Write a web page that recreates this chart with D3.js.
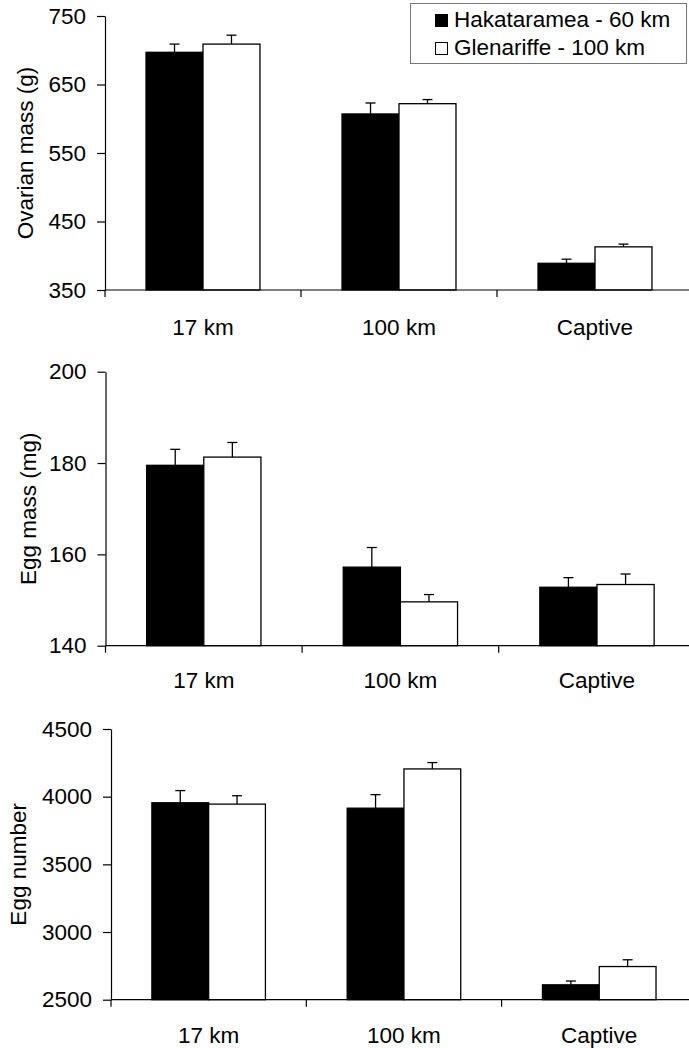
<!DOCTYPE html>
<html>
<head>
<meta charset="utf-8">
<script src="https://cdn.jsdelivr.net/npm/d3@7"></script>
<style>
  html, body { margin: 0; padding: 0; background: #fff; }
  svg { display: block; }
  text { font-family: "Liberation Sans", Arial, Helvetica, sans-serif; fill: #000; }
</style>
</head>
<body>
<svg id="chart" width="689" height="1048"></svg>
<script>
// ---- data ----
const categories = ["17 km", "100 km", "Captive"];
const seriesNames = ["Hakataramea - 60 km", "Glenariffe - 100 km"];

const ovarianHak = [697, 607, 389];
const ovarianHakErr = [12, 16, 6];
const ovarianGlen = [709, 622, 413];
const ovarianGlenErr = [13, 6, 4];
const ovarianTicks = [350, 450, 550, 650, 750];

const eggMassHak = [179.5, 157.2, 152.8];
const eggMassHakErr = [3.5, 4.3, 2.1];
const eggMassGlen = [181.3, 149.6, 153.4];
const eggMassGlenErr = [3.2, 1.6, 2.3];
const eggMassTicks = [140, 160, 180, 200];

const eggNumHak = [3955, 3915, 2610];
const eggNumHakErr = [90, 100, 28];
const eggNumGlen = [3945, 4205, 2745];
const eggNumGlenErr = [62, 47, 50];
const eggNumTicks = [2500, 3000, 3500, 4000, 4500];

// ---- layout ----
const W = 689;
const svg = d3.select("#chart");
const FS = 22.5;
const fills = ["#000", "#fff"];

const panels = [
  { title: "Ovarian mass (g)", ticks: ovarianTicks, vals: [ovarianHak, ovarianGlen], errs: [ovarianHakErr, ovarianGlenErr],
    x0: 105, band: 196, yTop: 16, yBot: 290, titleX: 25, labDy: 45 },
  { title: "Egg mass (mg)", ticks: eggMassTicks, vals: [eggMassHak, eggMassGlen], errs: [eggMassHakErr, eggMassGlenErr],
    x0: 105.5, band: 196.6, yTop: 371.7, yBot: 645.7, titleX: 28, labDy: 42 },
  { title: "Egg number", ticks: eggNumTicks, vals: [eggNumHak, eggNumGlen], errs: [eggNumHakErr, eggNumGlenErr],
    x0: 111, band: 195.3, yTop: 729, yBot: 999.7, titleX: 18, labDy: 43 }
];

panels.forEach(p => {
  const g = svg.append("g");
  const x = d3.scaleBand().domain(categories).range([p.x0, p.x0 + p.band * categories.length]).padding(0);
  const x1 = d3.scaleBand().domain(seriesNames).range([0, x.bandwidth()]).paddingInner(0).paddingOuter(0.72);
  const y = d3.scaleLinear().domain(d3.extent(p.ticks)).range([p.yBot, p.yTop]);

  seriesNames.forEach((s, si) => {
    const rows = categories.map((c, ci) => ({ c, v: p.vals[si][ci], e: p.errs[si][ci] }));
    const eg = g.append("g").attr("stroke", "#000").attr("stroke-width", 1.3);
    eg.selectAll("line.v").data(rows).join("line")
      .attr("x1", d => x(d.c) + x1(s) + x1.bandwidth() / 2)
      .attr("x2", d => x(d.c) + x1(s) + x1.bandwidth() / 2)
      .attr("y1", d => y(d.v)).attr("y2", d => y(d.v + d.e));
    eg.selectAll("line.h").data(rows).join("line")
      .attr("x1", d => x(d.c) + x1(s) + x1.bandwidth() / 2 - 5)
      .attr("x2", d => x(d.c) + x1(s) + x1.bandwidth() / 2 + 5)
      .attr("y1", d => y(d.v + d.e)).attr("y2", d => y(d.v + d.e));
    g.append("g").selectAll("rect").data(rows).join("rect")
      .attr("x", d => x(d.c) + x1(s))
      .attr("width", x1.bandwidth())
      .attr("y", d => y(d.v))
      .attr("height", d => y.range()[0] - y(d.v))
      .attr("fill", fills[si])
      .attr("stroke", "#000")
      .attr("stroke-width", 1.3);
  });

  const ya = g.append("g").attr("transform", `translate(${p.x0},0)`)
    .call(d3.axisLeft(y).tickValues(p.ticks).tickSize(8).tickSizeOuter(0).tickPadding(11).tickFormat(d3.format("d")));
  ya.selectAll("path,line").attr("stroke", "#000").attr("stroke-width", 1.2);
  ya.selectAll("text").style("font-size", FS + "px").style("font-family", "'Liberation Sans', Arial, sans-serif").attr("fill", "#000");

  g.append("line").attr("x1", p.x0).attr("x2", W).attr("y1", p.yBot).attr("y2", p.yBot)
    .attr("stroke", "#000").attr("stroke-width", 1.2);
  g.append("g").selectAll("line").data(categories).join("line")
    .attr("x1", d => x(d)).attr("x2", d => x(d))
    .attr("y1", p.yBot).attr("y2", p.yBot + 7)
    .attr("stroke", "#000").attr("stroke-width", 1.2);
  g.append("g").selectAll("text").data(categories).join("text")
    .attr("x", d => x(d) + x.bandwidth() / 2)
    .attr("y", p.yBot + p.labDy)
    .attr("text-anchor", "middle")
    .style("font-size", FS + "px")
    .text(d => d);

  g.append("text")
    .attr("transform", `translate(${p.titleX},${(p.yTop + p.yBot) / 2}) rotate(-90)`)
    .attr("text-anchor", "middle")
    .attr("dominant-baseline", "central")
    .style("font-size", FS + "px")
    .text(p.title);
});

// legend
const lg = svg.append("g");
lg.append("rect").attr("x", 410.5).attr("y", 3.5).attr("width", 276).attr("height", 60)
  .attr("fill", "#fff").attr("stroke", "#777").attr("stroke-width", 1);
seriesNames.forEach((s, i) => {
  const yb = 27 + i * 28;
  lg.append("rect").attr("x", 435.5).attr("y", yb - 12.5).attr("width", 12).attr("height", 12)
    .attr("fill", fills[i]).attr("stroke", "#000").attr("stroke-width", 1);
  lg.append("text").attr("x", 454).attr("y", yb).style("font-size", FS + "px").text(s);
});
</script>
</body>
</html>
